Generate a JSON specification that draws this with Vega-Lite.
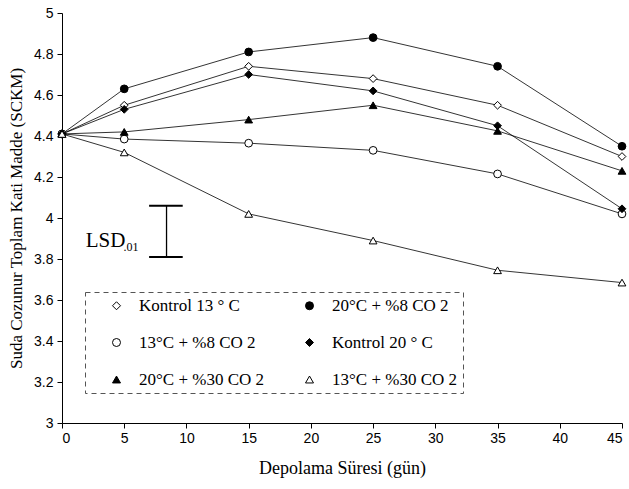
{
  "$schema": "https://vega.github.io/schema/vega-lite/v6.json",
  "width": 560,
  "height": 410,
  "autosize": {"type": "none"},
  "padding": {"left": 62, "top": 13, "right": 7, "bottom": 66},
  "background": "white",
  "config": {
    "view": {"stroke": null},
    "axis": {"grid": false, "domainColor": "black", "tickColor": "black", "labelColor": "black", "titleColor": "black", "labelFont": "Liberation Sans", "labelFontSize": 14, "titleFont": "Liberation Serif", "titleFontWeight": "normal", "tickSize": 5},
    "legend": {"orient": "none", "legendX": 23, "legendY": 279, "columns": 2, "labelFont": "Liberation Serif", "labelFontSize": 17, "labelColor": "black", "symbolSize": 64, "symbolStrokeWidth": 1, "strokeColor": "#555", "strokeDash": [5, 4], "padding": 5, "symbolOffset": 18, "rowPadding": 19, "columnPadding": 18, "labelOffset": 14, "labelLimit": 300}
  },
  "datasets": {
    "main": [
      {"day": 0, "series": "Kontrol 13 ° C", "value": 4.41},
      {"day": 5, "series": "Kontrol 13 ° C", "value": 4.55},
      {"day": 15, "series": "Kontrol 13 ° C", "value": 4.74},
      {"day": 25, "series": "Kontrol 13 ° C", "value": 4.68},
      {"day": 35, "series": "Kontrol 13 ° C", "value": 4.55},
      {"day": 45, "series": "Kontrol 13 ° C", "value": 4.30},
      {"day": 0, "series": "20°C + %8 CO 2", "value": 4.41},
      {"day": 5, "series": "20°C + %8 CO 2", "value": 4.63},
      {"day": 15, "series": "20°C + %8 CO 2", "value": 4.81},
      {"day": 25, "series": "20°C + %8 CO 2", "value": 4.88},
      {"day": 35, "series": "20°C + %8 CO 2", "value": 4.74},
      {"day": 45, "series": "20°C + %8 CO 2", "value": 4.35},
      {"day": 0, "series": "13°C + %8 CO 2", "value": 4.41},
      {"day": 5, "series": "13°C + %8 CO 2", "value": 4.385},
      {"day": 15, "series": "13°C + %8 CO 2", "value": 4.365},
      {"day": 25, "series": "13°C + %8 CO 2", "value": 4.33},
      {"day": 35, "series": "13°C + %8 CO 2", "value": 4.215},
      {"day": 45, "series": "13°C + %8 CO 2", "value": 4.02},
      {"day": 0, "series": "Kontrol 20 ° C", "value": 4.41},
      {"day": 5, "series": "Kontrol 20 ° C", "value": 4.53},
      {"day": 15, "series": "Kontrol 20 ° C", "value": 4.70},
      {"day": 25, "series": "Kontrol 20 ° C", "value": 4.62},
      {"day": 35, "series": "Kontrol 20 ° C", "value": 4.45},
      {"day": 45, "series": "Kontrol 20 ° C", "value": 4.045},
      {"day": 0, "series": "20°C + %30 CO 2", "value": 4.41},
      {"day": 5, "series": "20°C + %30 CO 2", "value": 4.42},
      {"day": 15, "series": "20°C + %30 CO 2", "value": 4.48},
      {"day": 25, "series": "20°C + %30 CO 2", "value": 4.55},
      {"day": 35, "series": "20°C + %30 CO 2", "value": 4.425},
      {"day": 45, "series": "20°C + %30 CO 2", "value": 4.23},
      {"day": 0, "series": "13°C + %30 CO 2", "value": 4.41},
      {"day": 5, "series": "13°C + %30 CO 2", "value": 4.32},
      {"day": 15, "series": "13°C + %30 CO 2", "value": 4.02},
      {"day": 25, "series": "13°C + %30 CO 2", "value": 3.89},
      {"day": 35, "series": "13°C + %30 CO 2", "value": 3.745},
      {"day": 45, "series": "13°C + %30 CO 2", "value": 3.685}
    ],
    "lsd": [{"day": 8.4, "lo": 3.81, "hi": 4.06, "left": 7.0, "right": 9.7}],
    "lsdlabel": [{"day": 1.9, "value": 3.86, "text": "LSD", "subday": 4.95, "subvalue": 3.84, "sub": ".01"}]
  },
  "layer": [
    {
      "data": {"name": "main"},
      "mark": {"type": "line", "color": "black", "strokeWidth": 0.8},
      "encoding": {
        "x": {"field": "day", "type": "quantitative", "scale": {"domain": [0, 45], "nice": false},
          "axis": {"values": [0, 5, 10, 15, 20, 25, 30, 35, 40, 45], "title": "Depolama Süresi (gün)", "titleFontSize": 18, "labelPadding": 3, "titlePadding": 14}},
        "y": {"field": "value", "type": "quantitative", "scale": {"domain": [3, 5], "nice": false, "zero": false},
          "axis": {"values": [3, 3.2, 3.4, 3.6, 3.8, 4, 4.2, 4.4, 4.6, 4.8, 5], "format": "~g", "title": "Suda Cozunur Toplam Kati Madde (SCKM)", "titleFontSize": 17, "labelPadding": 4, "titlePadding": 8}},
        "detail": {"field": "series"}
      }
    },
    {
      "data": {"name": "main"},
      "mark": {"type": "point", "filled": true, "strokeWidth": 1, "size": 60, "opacity": 1},
      "encoding": {
        "x": {"field": "day", "type": "quantitative"},
        "y": {"field": "value", "type": "quantitative"},
        "shape": {"field": "series", "type": "nominal",
          "scale": {"domain": ["Kontrol 13 ° C", "13°C + %8 CO 2", "20°C + %30 CO 2", "20°C + %8 CO 2", "Kontrol 20 ° C", "13°C + %30 CO 2"],
                    "range": ["diamond", "circle", "triangle-up", "circle", "diamond", "triangle-up"]},
          "legend": {"title": null}},
        "fill": {"field": "series", "type": "nominal",
          "scale": {"domain": ["Kontrol 13 ° C", "13°C + %8 CO 2", "20°C + %30 CO 2", "20°C + %8 CO 2", "Kontrol 20 ° C", "13°C + %30 CO 2"],
                    "range": ["white", "white", "black", "black", "black", "white"]},
          "legend": {"title": null}},
        "stroke": {"field": "series", "type": "nominal",
          "scale": {"domain": ["Kontrol 13 ° C", "13°C + %8 CO 2", "20°C + %30 CO 2", "20°C + %8 CO 2", "Kontrol 20 ° C", "13°C + %30 CO 2"],
                    "range": ["black", "black", "black", "black", "black", "black"]},
          "legend": {"title": null}}
      }
    },
    {
      "data": {"name": "lsd"},
      "mark": {"type": "rule", "color": "black", "strokeWidth": 1.3},
      "encoding": {"x": {"field": "day", "type": "quantitative"}, "y": {"field": "lo", "type": "quantitative"}, "y2": {"field": "hi"}}
    },
    {
      "data": {"name": "lsd"},
      "mark": {"type": "rule", "color": "black", "strokeWidth": 2},
      "encoding": {"x": {"field": "left", "type": "quantitative"}, "x2": {"field": "right"}, "y": {"field": "hi", "type": "quantitative"}}
    },
    {
      "data": {"name": "lsd"},
      "mark": {"type": "rule", "color": "black", "strokeWidth": 2},
      "encoding": {"x": {"field": "left", "type": "quantitative"}, "x2": {"field": "right"}, "y": {"field": "lo", "type": "quantitative"}}
    },
    {
      "data": {"name": "lsdlabel"},
      "mark": {"type": "text", "align": "left", "baseline": "alphabetic", "font": "Liberation Serif", "fontSize": 21, "color": "black"},
      "encoding": {"x": {"field": "day", "type": "quantitative"}, "y": {"field": "value", "type": "quantitative"}, "text": {"field": "text"}}
    },
    {
      "data": {"name": "lsdlabel"},
      "mark": {"type": "text", "align": "left", "baseline": "alphabetic", "font": "Liberation Serif", "fontSize": 12, "color": "black"},
      "encoding": {"x": {"field": "subday", "type": "quantitative"}, "y": {"field": "subvalue", "type": "quantitative"}, "text": {"field": "sub"}}
    }
  ]
}
